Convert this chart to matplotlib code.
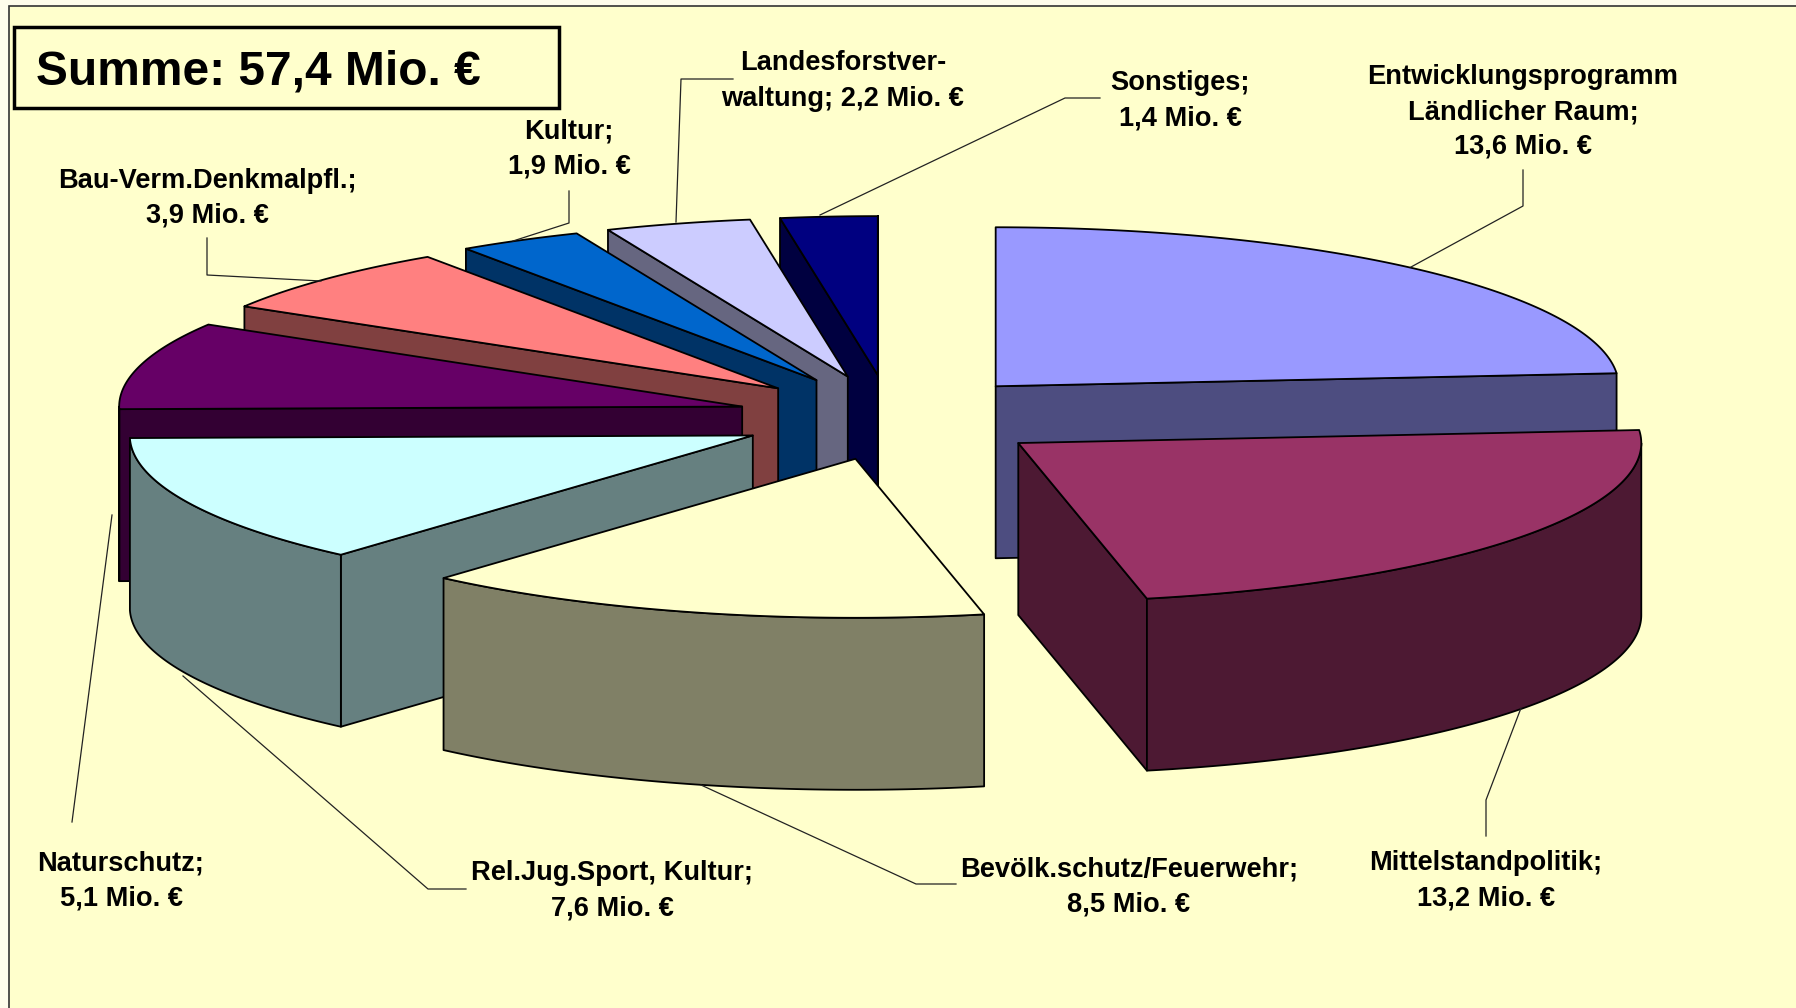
import numpy as np
import matplotlib
matplotlib.use("Agg")
import matplotlib.pyplot as plt
from matplotlib.patches import Polygon, Rectangle

plt.rcParams['font.family'] = ['Liberation Sans', 'DejaVu Sans']

# ---- data ----
categories = ["Entwicklungsprogramm\nLändlicher Raum;", "Mittelstandpolitik;", "Bevölk.schutz/Feuerwehr;",
              "Rel.Jug.Sport, Kultur;", "Naturschutz;", "Bau-Verm.Denkmalpfl.;", "Kultur;",
              "Landesforstver-\nwaltung;", "Sonstiges;"]
separators = ["\n", "\n", "\n", "\n", "\n", "\n", "\n", " ", "\n"]
values = [13.6, 13.2, 8.5, 7.6, 5.1, 3.94, 1.85, 2.17, 1.44]
value_labels = ["13,6 Mio. €", "13,2 Mio. €", "8,5 Mio. €", "7,6 Mio. €", "5,1 Mio. €",
                "3,9 Mio. €", "1,9 Mio. €", "2,2 Mio. €", "1,4 Mio. €"]
title = "Summe: 57,4 Mio. €"

# ---- styles ----
top_colors = ["#9999FF", "#993366", "#FFFFCC", "#CCFFFF", "#660066", "#FF8080", "#0066CC", "#CCCCFF", "#000080"]
side_colors = ["#4D4D80", "#4D1933", "#808066", "#668080", "#330033", "#804040", "#003366", "#666680", "#000040"]
draw_order = [8, 7, 6, 0, 5, 4, 1, 3, 2]
label_pos = [(1523, 112), (1486, 881), (1129, 887), (612, 891), (121, 881),
             (207, 198), (569, 149), (843, 81), (1180, 101)]
leaders = [[(1523, 170), (1523, 206), (1411, 267)],
           [(1486, 836), (1486, 800), (1521, 708)],
           [(956, 884), (916, 884), (701, 785)],
           [(466, 889), (428, 889), (183, 676)],
           [(72, 822), (112, 515)],
           [(207, 238), (207, 275), (321, 281)],
           [(569, 191), (569, 223), (513, 241)],
           [(733, 79), (681, 79), (676, 222)],
           [(1100, 98), (1065, 98), (820, 215)]]
CX, CY, RX, RY, DEPTH, EX, EY = 890, 417, 623, 159, 172, 155, 42
SKEW_X, SKEW_Y = 2.5, 0.6
INK = "black"

fig = plt.figure(figsize=(17.96, 10.08), dpi=100, facecolor="#FFFDEB")
ax = fig.add_axes([0, 0, 1, 1])
ax.set_xlim(0, 1796)
ax.set_ylim(1008, 0)
ax.axis("off")

ax.add_patch(Rectangle((9, 6), 1900, 1100, facecolor="#FFFFCC", edgecolor="#333333", lw=1.2, zorder=0))


def rim_point(apex, t):
    return apex[0] + RX * np.sin(t), apex[1] - RY * np.cos(t)


def face(xs, ys, color, z):
    ax.add_patch(Polygon(np.column_stack([xs, ys]), closed=True, facecolor=color,
                         edgecolor=INK, lw=1.3, joinstyle="round", zorder=z))


def wall(apex, t, color, z):
    x, y = rim_point(apex, t)
    face([apex[0], x, x, apex[0]], [apex[1], y, y + DEPTH, apex[1] + DEPTH], color, z)


edges = np.concatenate([[0], np.cumsum(values)]) / np.sum(values) * 2 * np.pi
for z, i in enumerate(draw_order):
    base = 2 + z * 5
    t0, t1 = edges[i], edges[i + 1]
    mid = (t0 + t1) / 2
    apex = (CX + EX * np.sin(mid) + SKEW_X * (1 - np.cos(mid)),
            CY - EY * np.cos(mid) + SKEW_Y * (1 - np.cos(mid)))
    # only the walls that face the viewer
    if np.sin(t0) < 0:
        wall(apex, t0, side_colors[i], base)
    if np.sin(t1) > 0:
        wall(apex, t1, side_colors[i], base)
    f0, f1 = max(t0, np.pi / 2), min(t1, 3 * np.pi / 2)
    if f1 > f0:
        xs, ys = rim_point(apex, np.linspace(f0, f1, 120))
        face(np.r_[xs, xs[::-1]], np.r_[ys, ys[::-1] + DEPTH], side_colors[i], base + 1)
    xs, ys = rim_point(apex, np.linspace(t0, t1, 120))
    face(np.r_[apex[0], xs], np.r_[apex[1], ys], top_colors[i], base + 2)

for pts in leaders:
    p = np.array(pts)
    ax.plot(p[:, 0], p[:, 1], color="#222222", lw=0.9, zorder=60)

for name, sep, val, (x, y) in zip(categories, separators, value_labels, label_pos):
    ax.text(x, y, f"{name}{sep}{val}", ha="center", va="center", ma="center", fontsize=19.6,
            fontweight="bold", color="black", linespacing=1.45, zorder=70)

ax.add_patch(Rectangle((14, 27), 545, 81, facecolor="#FFFFCC", edgecolor="black", lw=2.5, zorder=65))
ax.text(36, 72, title, ha="left", va="center", fontsize=34.5, fontweight="bold", color="black", zorder=70)

fig.savefig("out.png", dpi=100, facecolor=fig.get_facecolor())
